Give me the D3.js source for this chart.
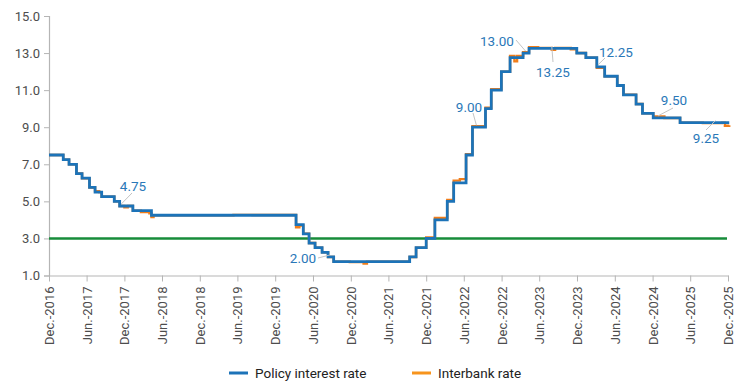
<!DOCTYPE html>
<html><head><meta charset="utf-8">
<script src="https://cdn.jsdelivr.net/npm/d3@7"></script>
<style>
body{margin:0;background:#fff;}
svg{display:block;font-family:Roboto,"Noto Sans",sans-serif;}
</style></head>
<body><svg id="c" width="744" height="381"></svg>
<script>
// Policy interest rate: [effective date, rate]
const policyRate = [
 ["2016-12-20",7.50],["2017-02-27",7.25],["2017-03-27",7.00],["2017-05-02",6.50],["2017-05-29",6.25],
 ["2017-07-04",5.75],["2017-07-31",5.50],["2017-09-01",5.25],["2017-11-01",5.00],["2017-11-27",4.75],
 ["2018-01-30",4.50],["2018-04-30",4.25],["2020-03-30",3.75],["2020-05-04",3.25],["2020-06-01",2.75],
 ["2020-06-30",2.50],["2020-08-03",2.25],["2020-09-01",2.00],["2020-09-28",1.75],["2021-10-01",2.00],
 ["2021-11-01",2.50],["2021-12-20",3.00],["2022-01-31",4.00],["2022-04-01",5.00],["2022-05-02",6.00],
 ["2022-07-01",7.50],["2022-08-01",9.00],["2022-10-03",10.00],["2022-10-31",11.00],["2022-12-19",12.00],
 ["2023-01-30",12.75],["2023-04-03",13.00],["2023-05-02",13.25],["2023-12-19",13.00],["2024-02-01",12.75],
 ["2024-03-25",12.25],["2024-05-02",11.75],["2024-07-02",11.25],["2024-08-01",10.75],["2024-10-01",10.25],
 ["2024-11-01",9.75],["2024-12-23",9.50],["2025-05-02",9.25],["2025-12-26",9.25]
];
// Interbank rate: [date, rate]
const interbankRate = [
 ["2016-12-20",7.50],["2017-02-27",7.25],["2017-03-27",7.00],["2017-05-02",6.50],["2017-05-29",6.25],
 ["2017-07-04",5.75],["2017-07-31",5.55],["2017-08-20",5.50],["2017-09-01",5.25],["2017-11-01",5.00],
 ["2017-11-27",4.75],["2017-12-20",4.68],["2018-01-05",4.75],["2018-01-30",4.50],["2018-03-10",4.42],
 ["2018-04-20",4.35],["2018-04-30",4.15],["2018-05-10",4.25],["2019-06-01",4.27],["2019-09-01",4.26],
 ["2020-03-30",3.60],["2020-04-15",3.70],["2020-05-04",3.25],["2020-06-01",2.75],["2020-06-30",2.50],
 ["2020-08-03",2.25],["2020-09-01",2.00],["2020-09-28",1.75],["2020-12-15",1.72],["2021-02-20",1.64],
 ["2021-03-08",1.75],["2021-10-01",2.00],["2021-11-01",2.50],["2021-12-20",3.05],["2022-01-31",4.10],
 ["2022-04-01",5.08],["2022-05-02",6.12],["2022-06-01",6.20],["2022-07-01",7.55],["2022-08-01",9.05],
 ["2022-10-03",10.05],["2022-10-31",11.05],["2022-12-19",12.00],["2023-01-30",12.85],["2023-02-20",12.55],
 ["2023-03-05",12.85],["2023-04-03",13.05],["2023-05-02",13.32],["2023-06-15",13.28],["2023-08-20",13.18],
 ["2023-09-05",13.28],["2023-11-20",13.20],["2023-12-19",13.00],["2024-02-01",12.75],["2024-03-25",12.20],
 ["2024-05-02",11.75],["2024-07-02",11.25],["2024-08-01",10.75],["2024-10-01",10.25],["2024-11-01",9.75],
 ["2024-12-23",9.58],["2025-02-15",9.50],["2025-05-02",9.25],["2025-08-20",9.22],["2025-11-20",9.25],
 ["2025-12-05",9.08],["2025-12-26",9.10]
];
const benchmarkValue = 3.0;
const tickDates = ["2016-12","2017-06","2017-12","2018-06","2018-12","2019-06","2019-12","2020-06","2020-12",
 "2021-06","2021-12","2022-06","2022-12","2023-06","2023-12","2024-06","2024-12","2025-06","2025-12"];
const tickLabels = ["Dec.-2016","Jun.-2017","Dec.-2017","Jun.-2018","Dec.-2018","Jun.-2019","Dec.-2019","Jun.-2020","Dec.-2020",
 "Jun.-2021","Dec.-2021","Jun.-2022","Dec.-2022","Jun.-2023","Dec.-2023","Jun.-2024","Dec.-2024","Jun.-2025","Dec.-2025"];
const yTicks = [1,3,5,7,9,11,13,15];
const annotations = [
 {label:"4.75", date:"2017-12-05", value:4.75, tx:133, ty:186, x1:132,y1:193},
 {label:"2.00", date:"2020-09-10", value:2.00, tx:303, ty:258, x1:318,y1:258},
 {label:"9.00", date:"2022-08-20", value:9.00, tx:469, ty:107, x1:473,y1:113},
 {label:"13.00", date:"2023-04-15", value:13.00, tx:497, ty:41, x1:516,y1:40},
 {label:"13.25", date:"2023-08-20", value:13.25, tx:553, ty:72, x1:553,y1:62},
 {label:"12.25", date:"2024-03-30", value:12.25, tx:616, ty:52, x1:605,y1:58},
 {label:"9.50", date:"2025-01-15", value:9.50, tx:674, ty:100, x1:673,y1:108},
 {label:"9.25", date:"2025-10-20", value:9.25, tx:706, ty:138, x1:706,y1:130}
];

const parse = d3.utcParse("%Y-%m-%d");
const tickDate = s => { const [y,m] = s.split("-").map(Number); return new Date(Date.UTC(y,m-1,20)); };
const svg = d3.select("#c");
const x = d3.scaleUtc().domain([tickDate("2016-12"), tickDate("2025-12")]).range([49, 728]);
const y = d3.scaleLinear().domain([1,15]).range([275.5, 16]);

// y axis
const ya = svg.append("g").attr("transform","translate(49,0)")
 .call(d3.axisLeft(y).tickValues(yTicks).tickFormat(d3.format(".1f")).tickSize(5).tickPadding(4));
ya.select(".domain").attr("stroke","#b5b5b5").attr("stroke-width",1.2);
ya.selectAll(".tick line").attr("stroke","#b5b5b5");
ya.selectAll(".tick text").attr("fill","#4d4d4d").style("font-size","13px").style("font-family","Roboto");

// x axis
const xa = svg.append("g").attr("transform","translate(0,275.5)")
 .call(d3.axisBottom(x).tickValues(tickDates.map(tickDate)).tickFormat((d,i)=>tickLabels[i]).tickSize(6).tickSizeOuter(0));
xa.select(".domain").attr("stroke","#b5b5b5").attr("stroke-width",1.2);
xa.selectAll(".tick line").attr("stroke","#b5b5b5");
xa.selectAll(".tick text").attr("fill","#4d4d4d").style("font-size","13px").style("font-family","Roboto")
 .attr("transform","rotate(-90)").attr("text-anchor","end").attr("x",-11).attr("y",0).attr("dy","0.35em");

// benchmark line
svg.append("line").attr("x1",x.range()[0]).attr("x2",727).attr("y1",y(benchmarkValue)).attr("y2",y(benchmarkValue))
 .attr("stroke","#178c3a").attr("stroke-width",2.4);

const line = d3.line().x(d=>x(parse(d[0]))).y(d=>y(d[1])).curve(d3.curveStepAfter);
svg.append("path").datum(interbankRate).attr("d",line).attr("fill","none").attr("stroke","#f07d1a").attr("stroke-width",2.4);
svg.append("path").datum(policyRate).attr("d",line).attr("fill","none").attr("stroke","#1c73b8").attr("stroke-width",2.8);

// annotations
const ag = svg.append("g");
annotations.forEach(a=>{
  ag.append("line").attr("x1",a.x1).attr("y1",a.y1).attr("x2",x(parse(a.date))).attr("y2",y(a.value)-2)
    .attr("stroke","#c4c4c4").attr("stroke-width",1);
  ag.append("text").attr("x",a.tx).attr("y",a.ty).attr("dy","0.35em").attr("text-anchor","middle")
    .attr("fill","#2a78b8").style("font-size","13.5px").text(a.label);
});

// legend
const legend = [{name:"Policy interest rate",color:"#1c73b8",x:229},{name:"Interbank rate",color:"#f7941d",x:412}];
legend.forEach(l=>{
  svg.append("line").attr("x1",l.x).attr("x2",l.x+19).attr("y1",373).attr("y2",373).attr("stroke",l.color).attr("stroke-width",3);
  svg.append("text").attr("x",l.x+26).attr("y",373).attr("dy","0.35em").attr("fill","#222").style("font-size","13.5px").text(l.name);
});
</script></body></html>
